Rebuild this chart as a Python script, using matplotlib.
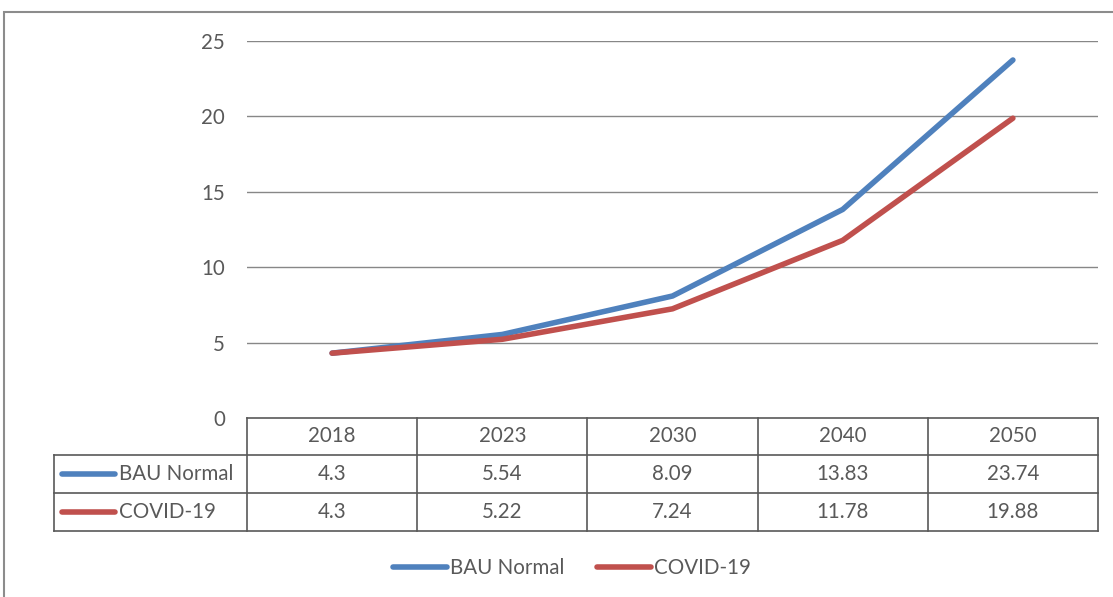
import matplotlib
matplotlib.use("Agg")
import matplotlib.pyplot as plt
from matplotlib.lines import Line2D
from matplotlib.patches import Rectangle
from matplotlib.transforms import blended_transform_factory

years = ["2018", "2023", "2030", "2040", "2050"]
series_names = ["BAU Normal", "COVID-19"]
bau_normal = [4.3, 5.54, 8.09, 13.83, 23.74]
covid_19 = [4.3, 5.22, 7.24, 11.78, 19.88]
bau_labels = ["4.3", "5.54", "8.09", "13.83", "23.74"]
covid_labels = ["4.3", "5.22", "7.24", "11.78", "19.88"]
y_ticks = [0, 5, 10, 15, 20, 25]

colors = ["#4F81BD", "#C0504D"]
text_color = "#595959"
grid_color = "#878787"
table_color = "#595959"
plt.rcParams["font.family"] = ["Lato", "DejaVu Sans"]
FS = 14.8

W, H = 1113, 597
fig = plt.figure(figsize=(W / 100, H / 100), dpi=100)

def fx(px):
    return px / W

def fy(py):
    return 1 - py / H

# outer chart frame
fig.patches.append(Rectangle((fx(4), fy(700)), 2, fy(12) - fy(700), transform=fig.transFigure,
                             fill=False, edgecolor="#8C8C8C", linewidth=1.5))

ax_left, ax_right, ax_top, ax_bottom = 247, 1098, 41, 418
ax = fig.add_axes([fx(ax_left), fy(ax_bottom), fx(ax_right - ax_left), (ax_bottom - ax_top) / H])
x = list(range(len(years)))
ax.set_xlim(-0.5, len(years) - 0.5)
ax.set_ylim(0, 25)
ax.set_yticks(y_ticks)
ax.set_yticklabels([str(t) for t in y_ticks], fontsize=FS, color=text_color)
ax.tick_params(axis="y", length=0, pad=16)
ax.set_xticks([])
for s in ax.spines.values():
    s.set_visible(False)
for t in y_ticks[1:]:
    ax.axhline(t, color=grid_color, linewidth=1.0, zorder=1)

for vals, c in zip([bau_normal, covid_19], colors):
    ax.plot(x, vals, color=c, linewidth=4.0, solid_capstyle="round", zorder=3)

# data table under the axis
tr = blended_transform_factory(ax.transData, ax.transAxes)
h_ax = ax_bottom - ax_top
row_edges_px = [418, 455, 493, 531]
row_y = [-(p - ax_bottom) / h_ax for p in row_edges_px]
col_w_px = (ax_right - ax_left) / len(years)
label_left = -0.5 - (ax_left - 54) / col_w_px
lw_t = 1.2

def hline(y, x0, x1):
    ax.add_line(Line2D([x0, x1], [y, y], transform=tr, color=table_color, linewidth=lw_t, clip_on=False))

def vline(xv, y0, y1):
    ax.add_line(Line2D([xv, xv], [y0, y1], transform=tr, color=table_color, linewidth=lw_t, clip_on=False))

hline(row_y[0], -0.5, len(years) - 0.5)
for yv in row_y[1:]:
    hline(yv, label_left, len(years) - 0.5)
for i in range(len(years) + 1):
    vline(i - 0.5, row_y[0], row_y[3])
vline(label_left, row_y[1], row_y[3])

for i, yr in enumerate(years):
    ax.text(i, (row_y[0] + row_y[1]) / 2, yr, transform=tr, ha="center", va="center",
            fontsize=FS, color=text_color, clip_on=False)
for r, (labels, name, c) in enumerate(zip([bau_labels, covid_labels], series_names, colors)):
    yc = (row_y[r + 1] + row_y[r + 2]) / 2
    for i, lab in enumerate(labels):
        ax.text(i, yc, lab, transform=tr, ha="center", va="center",
                fontsize=FS, color=text_color, clip_on=False)
    key_x0 = label_left + 8 / col_w_px
    key_x1 = label_left + 61 / col_w_px
    ax.add_line(Line2D([key_x0, key_x1], [yc, yc], transform=tr, color=c,
                       linewidth=4.0, solid_capstyle="round", clip_on=False))
    ax.text(label_left + 65 / col_w_px, yc, name, transform=tr, ha="left", va="center",
            fontsize=FS, color=text_color, clip_on=False)

# legend
handles = [Line2D([0], [0], color=c, linewidth=4.0, solid_capstyle="round") for c in colors]
fig.legend(handles, series_names, loc="center", bbox_to_anchor=(fx(572), fy(568)), ncol=2,
           frameon=False, fontsize=FS, labelcolor=text_color, handlelength=2.6,
           handletextpad=0.15, columnspacing=1.6)

fig.savefig("out.png", dpi=100)
